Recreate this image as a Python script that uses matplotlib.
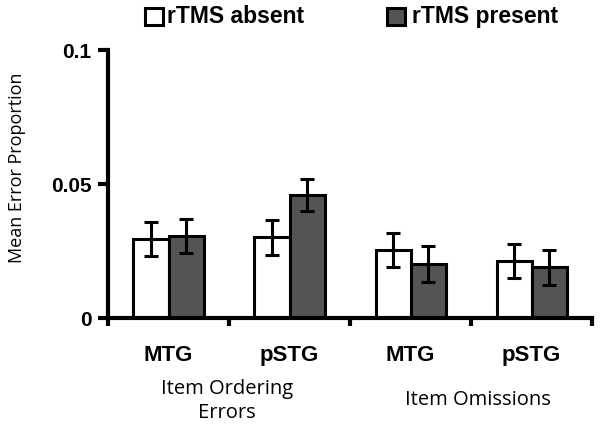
import matplotlib
matplotlib.use("Agg")
import matplotlib.pyplot as plt
from matplotlib.patches import Rectangle
import numpy as np

groups = ["MTG", "pSTG", "MTG", "pSTG"]
categories = ["Item Ordering\nErrors", "Item Omissions"]
absent = [0.0295, 0.0302, 0.0254, 0.0213]
absent_err = [0.0065, 0.0065, 0.0064, 0.0065]
present = [0.0306, 0.0459, 0.0201, 0.0190]
present_err = [0.0065, 0.0061, 0.0067, 0.0065]
series_names = ["rTMS absent", "rTMS present"]
yticks = [0, 0.05, 0.1]
ytick_labels = ["0", "0.05", "0.1"]

fig = plt.figure(figsize=(6, 4.29), dpi=100)
ax = fig.add_axes([0.18, 0.2587, 0.807, 0.6247])

centers = np.arange(len(groups)) + 0.5
w = 0.29
lw = 2.2
ax.bar(centers - w / 2, absent, w, color="white", edgecolor="black", linewidth=lw, zorder=2)
ax.bar(centers + w / 2, present, w, color="#545454", edgecolor="black", linewidth=lw, zorder=2)
ek = dict(fmt="none", ecolor="black", elinewidth=2.2, capsize=5, capthick=2.2, zorder=3)
ax.errorbar(centers - w / 2, absent, yerr=absent_err, **ek)
ax.errorbar(centers + w / 2, present, yerr=present_err, **ek)

ax.set_xlim(0, 4)
ax.set_ylim(0, 0.1)
for s in ["top", "right"]:
    ax.spines[s].set_visible(False)
for s in ["left", "bottom"]:
    ax.spines[s].set_linewidth(3)

ax.set_xticks([0, 1, 2, 3, 4])
ax.set_xticklabels([])
ax.tick_params(axis="x", direction="out", length=6, width=3)
ax.set_yticks(yticks)
ax.set_yticklabels(ytick_labels, fontfamily="Liberation Sans", fontweight="bold", fontsize=15)
ax.tick_params(axis="y", direction="out", length=7, width=3, pad=5)

for c, g in zip(centers, groups):
    ax.text(c, -0.0138, g, ha="center", va="center", fontfamily="Liberation Sans",
            fontweight="bold", fontsize=16)
ax.text(0.98, -0.031, categories[0], ha="center", va="center", fontfamily="Open Sans",
        fontsize=14.5, linespacing=1.25)
ax.text(3.06, -0.0306, categories[1], ha="center", va="center", fontfamily="Open Sans",
        fontsize=14.5)

fig.text(0.028, 0.608, "Mean Error Proportion", rotation=90, ha="center", va="center",
         fontfamily="Open Sans", fontsize=13)

# legend
for x0, tx, col, name in [(0.242, 0.278, "white", series_names[0]),
                          (0.645, 0.687, "#545454", series_names[1])]:
    fig.patches.append(Rectangle((x0, 0.942), 0.03, 0.039, transform=fig.transFigure,
                                 facecolor=col, edgecolor="black", linewidth=2.2))
    fig.text(tx, 0.962, name, ha="left", va="center", fontfamily="Liberation Sans",
             fontweight="bold", fontsize=16.5)

fig.savefig("out.png", dpi=100)
